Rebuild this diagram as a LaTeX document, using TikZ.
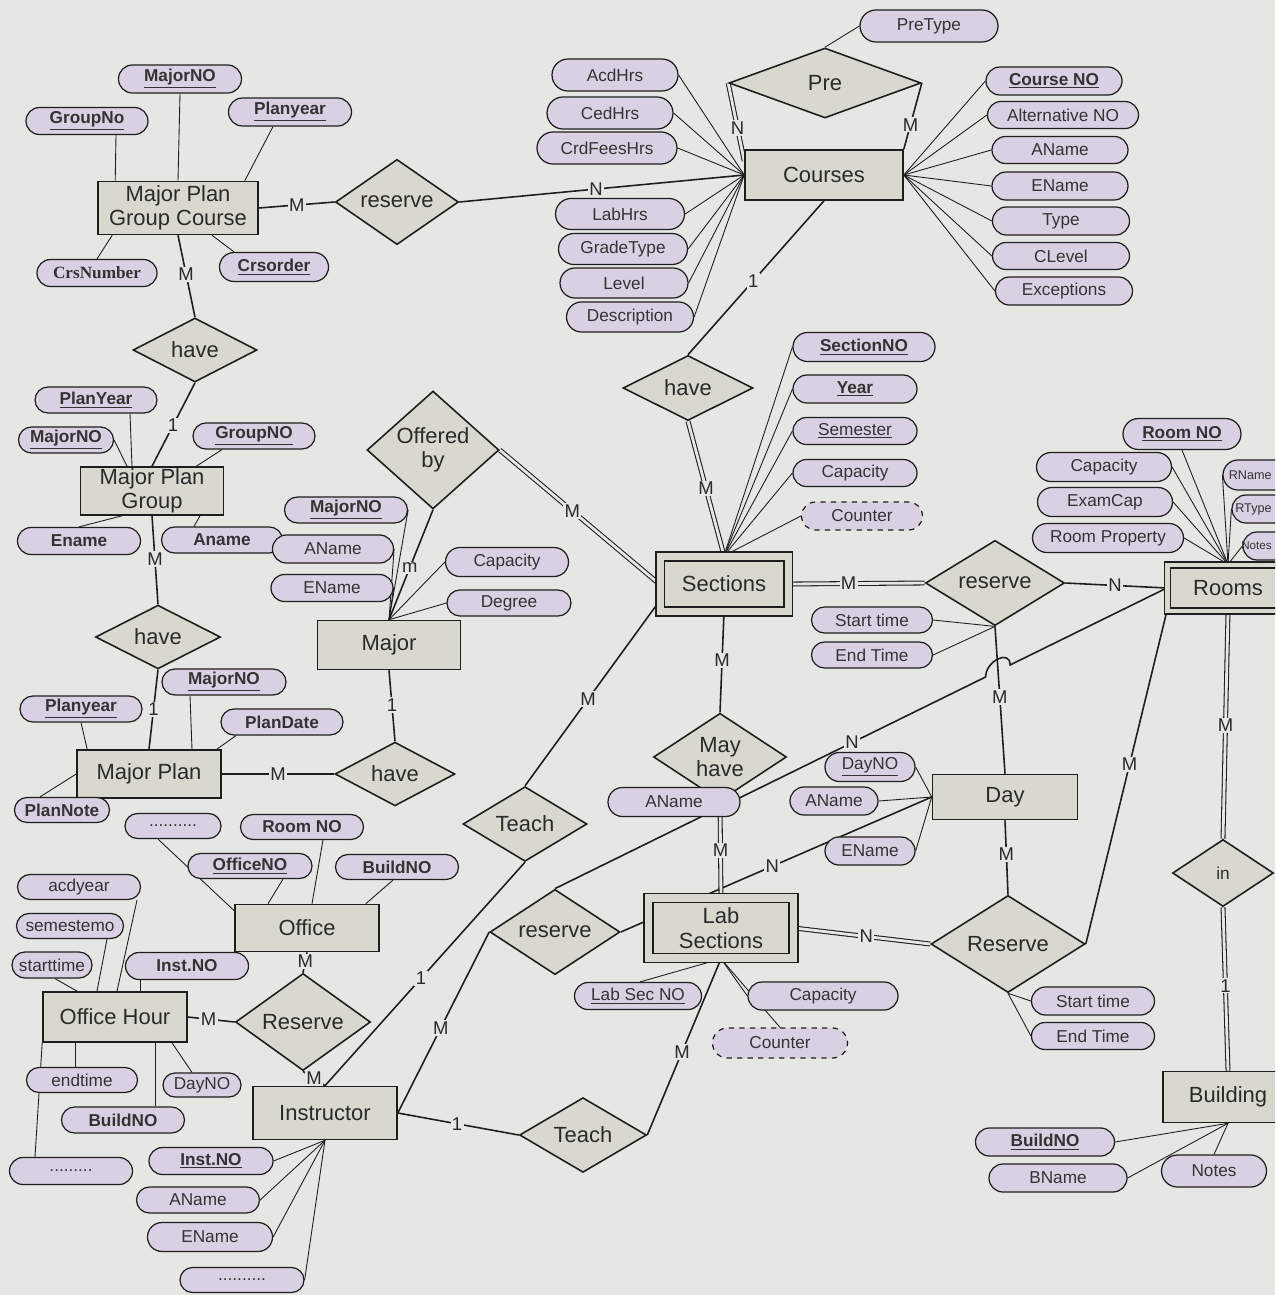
\documentclass[tikz,border=0pt]{standalone}
\usepackage{fontspec}
\setmainfont{Liberation Sans}
\newfontfamily\serifface{Liberation Serif}
\usetikzlibrary{shapes.geometric,shapes.misc,calc}
\definecolor{bgc}{HTML}{E6E6E3}
\definecolor{entfill}{HTML}{D9D8CF}
\definecolor{attrfill}{HTML}{D9D1E3}
\definecolor{lc}{HTML}{1E1E1E}
\definecolor{tc}{HTML}{2A2A2A}
\definecolor{atc}{HTML}{333333}
\pgfdeclarelayer{back}
\pgfdeclarelayer{edges}
\pgfsetlayers{back,edges,main}
\newcommand\entfont{\fontsize{12.5}{14}\selectfont}
\newcommand\attrfont{\fontsize{9.8}{11}\selectfont}
\newcommand\smallattrfont{\fontsize{7.2}{9}\selectfont}
\newcommand\tinyattrfont{\fontsize{6.6}{8}\selectfont}
\newcommand\lblfont{\fontsize{10.5}{11}\selectfont}
\newcommand\kb[1]{\textbf{\underline{#1}}}
\newcommand\ku[1]{\underline{#1}}
\tikzset{
  aw/.style={minimum width=#1*0.02cm},
  ah/.style={minimum height=#1*0.02cm},
  ent/.style={rectangle, draw=lc, fill=entfill, line width=0.9pt, inner sep=0pt, align=center, font=\entfont, text=tc},
  rel/.style={diamond, draw=lc, fill=entfill, line width=0.9pt, inner sep=0pt, align=center, font=\entfont, text=tc},
  attr/.style={rounded rectangle, draw=lc, fill=attrfill, line width=0.7pt, inner sep=0pt, minimum height=0.56cm, font=\attrfont, text=atc},
  dattr/.style={attr, dashed},
  edgetext/.style={inner sep=0pt, text=atc, anchor=east},
  rl/.style={draw=lc, line width=0.9pt},
  al/.style={draw=lc, line width=0.5pt},
  tl/.style={draw=lc, line width=0.6pt, double=bgc, double distance=1.6pt},
  lbl/.style={fill=bgc, inner sep=0.8pt, font=\lblfont, text=tc}
}
\begin{document}
\begin{tikzpicture}[x=0.02cm, y=-0.02cm]
\useasboundingbox (0,0) rectangle (1275,1295);
\begin{pgfonlayer}{back}
\fill[bgc] (0,0) rectangle (1275,1295);
\end{pgfonlayer}
\clip (0,0) rectangle (1275,1295);

% ---------- entities ----------
\node[ent,aw=160,ah=53] (MPGC) at (178,208) {Major Plan\\Group Course};
\node[ent,aw=158,ah=50] (Courses) at (824,175) {Courses};
\node[ent,aw=143,ah=48] (MPG) at (152,491) {Major Plan\\Group};
\node[ent,aw=143,ah=49] (Major) at (389,645) {Major};
\node[ent,double=entfill,double distance=0.14cm,aw=128,ah=55] (Sections) at (724,584) {Sections};
\node[ent,double=entfill,double distance=0.09cm,aw=121,ah=46] (Rooms) at (1228,588) {Rooms};
\node[ent,double=entfill,double distance=0.15cm,aw=145,ah=60] (Lab) at (721,928) {Lab\\Sections};
\node[ent,aw=144,ah=48] (MP) at (149,774) {Major Plan};
\node[ent,aw=144,ah=47] (Office) at (307,928) {Office};
\node[ent,aw=144,ah=50] (OH) at (115,1017) {Office Hour};
\node[ent,aw=144,ah=53] (Instructor) at (325,1113) {Instructor};
\node[ent,aw=145,ah=45] (Day) at (1005,797) {Day};
\node[ent,aw=130,ah=51] (Building) at (1228,1097) {Building};

% ---------- relationships ----------
\node[rel,aw=123,ah=66] (resA) at (397,202) {reserve};
\node[rel,aw=192,ah=70] (Pre) at (825,83) {Pre};
\node[rel,aw=124,ah=64] (have1) at (195,350) {have};
\node[rel,aw=125,ah=62] (have2) at (158,637) {have};
\node[rel,aw=132,ah=88] (off) at (433,450) {Offered\\by};
\node[rel,aw=130,ah=65] (haveCS) at (688,388) {have};
\node[rel,aw=120,ah=63] (have3) at (395,774) {have};
\node[rel,aw=139,ah=67] (resB) at (995,583) {reserve};
\node[rel,aw=133,ah=63] (mayhave) at (720,757) {May\\have};
\node[rel,aw=124,ah=65] (teach1) at (525,824) {Teach};
\node[rel,aw=130,ah=65] (resC) at (555,932) {reserve};
\node[rel,aw=135,ah=61] (resOH) at (303,1022) {Reserve};
\node[rel,aw=154,ah=66] (resD) at (1008,944) {Reserve};
\node[rel,aw=127,ah=68] (teach2) at (583,1135) {Teach};
\node[rel,aw=101,ah=67,font=\attrfont] (inrel) at (1223,873) {in};

% ---------- attributes ----------
% Major Plan Group Course
\node[attr,aw=123] (mpgcmaj) at (180,79) {\kb{MajorNO}};
\node[attr,aw=122,ah=27] (mpgcgrp) at (87,121) {\kb{GroupNo}};
\node[attr,aw=123] (mpgcyr) at (290,112) {\kb{Planyear}};
\node[attr,aw=120,ah=27] (mpgccrs) at (97,273) {\serifface\bfseries CrsNumber};
\node[attr,aw=109,ah=29] (mpgcord) at (274,267) {\kb{Crsorder}};
% Courses left
\node[attr,aw=126,ah=32] (cacd) at (615,75) {AcdHrs};
\node[attr,aw=126,ah=32] (cced) at (610,113) {CedHrs};
\node[attr,aw=140,ah=32] (ccrd) at (607,148) {CrdFeesHrs};
\node[attr,aw=129,ah=31] (clab) at (620,214) {LabHrs};
\node[attr,aw=129,ah=31] (cgrade) at (623,249) {GradeType};
\node[attr,aw=128,ah=30] (clevel) at (624,283) {Level};
\node[attr,aw=127,ah=30] (cdesc) at (630,317) {Description};
% Courses right
\node[attr,aw=136] (cno) at (1054,81) {\kb{Course NO}};
\node[attr,aw=151,ah=27] (calt) at (1063,115) {Alternative NO};
\node[attr,aw=136,ah=27] (caname) at (1060,150) {AName};
\node[attr,aw=136] (cename) at (1060,186) {EName};
\node[attr,aw=137] (ctype) at (1061,221) {Type};
\node[attr,aw=137,ah=27] (cclevel) at (1061,256) {CLevel};
\node[attr,aw=137] (cexc) at (1064,291) {Exceptions};
\node[attr,aw=138,ah=32] (pretype) at (929,26) {PreType};
% Major Plan Group
\node[attr,aw=122,ah=26] (mpgpy) at (96,400) {\kb{PlanYear}};
\node[attr,aw=95,ah=26] (mpgmaj) at (66,440) {\kb{MajorNO}};
\node[attr,aw=122,ah=26] (mpggrp) at (254,436) {\kb{GroupNO}};
\node[attr,aw=123,ah=27] (mpgen) at (79,541) {\textbf{Ename}};
\node[attr,aw=121,ah=26] (mpgan) at (222,540) {\textbf{Aname}};
% Major
\node[attr,aw=123,ah=26] (mjno) at (346,510) {\kb{MajorNO}};
\node[attr,aw=121] (mjan) at (333,549) {AName};
\node[attr,aw=122,ah=27] (mjen) at (332,588) {EName};
\node[attr,aw=123,ah=29] (mjcap) at (507,562) {Capacity};
\node[attr,aw=124,ah=26] (mjdeg) at (509,603) {Degree};
% Major Plan
\node[attr,aw=124,ah=26] (mpmaj) at (224,682) {\kb{MajorNO}};
\node[attr,aw=122,ah=26] (mppy) at (81,709) {\kb{Planyear}};
\node[attr,aw=122,ah=26] (mppd) at (282,722) {\textbf{PlanDate}};
\node[attr,aw=95,ah=25] (mppn) at (62,810) {\textbf{PlanNote}};
% Sections
\node[attr,aw=142,ah=29] (sno) at (864,347) {\kb{SectionNO}};
\node[attr,aw=124] (syear) at (855,389) {\kb{Year}};
\node[attr,aw=124,ah=27] (ssem) at (855,431) {\ku{Semester}};
\node[attr,aw=124,ah=27] (scap) at (855,473) {Capacity};
\node[dattr,aw=121] (scnt) at (862,516) {Counter};
\node[attr,aw=121,ah=26] (sst) at (872,620) {Start time};
\node[attr,aw=121,ah=26] (set) at (872,655) {End Time};
% Rooms
\node[attr,aw=118,ah=31] (rno) at (1182,434) {\kb{Room NO}};
\node[attr,aw=135,ah=29] (rcap) at (1104,467) {Capacity};
\node[attr,aw=135,ah=29] (rexam) at (1105,502) {ExamCap};
\node[attr,aw=151,ah=29] (rprop) at (1108,538) {Room Property};
\node[attr,aw=80,ah=30] (rname) at (1263,475) {};
\node[edgetext,font=\smallattrfont] (rnamet) at (1272,475) {RName};
\node[attr,aw=80,ah=28] (rtype) at (1272,509) {};
\node[edgetext,font=\smallattrfont] (rtypet) at (1272,509) {RType};
\node[attr,aw=80,ah=28] (rnotes) at (1283,546) {};
\node[edgetext,font=\tinyattrfont] (rnotest) at (1272,546) {Notes};
% Day
\node[attr,aw=90,ah=29] (dno) at (870,767) {\ku{DayNO}};
\node[attr,aw=88] (dan) at (834,801) {AName};
\node[attr,aw=90] (den) at (870,851) {EName};
% May have area
\node[attr,aw=132,ah=29] (mhan) at (674,802) {AName};
% Lab Sections
\node[attr,aw=127,ah=27] (labno) at (638,996) {\ku{Lab Sec NO}};
\node[attr,aw=150] (labcap) at (823,996) {Capacity};
\node[dattr,aw=135,ah=30] (labcnt) at (780,1043) {Counter};
% Reserve (Day)
\node[attr,aw=123] (dst) at (1093,1001) {Start time};
\node[attr,aw=123,ah=27] (det) at (1093,1036) {End Time};
% Building
\node[attr,aw=139] (bno) at (1045,1142) {\kb{BuildNO}};
\node[attr,aw=138] (bname) at (1058,1178) {BName};
\node[attr,aw=105,ah=32] (bnotes) at (1214,1171) {Notes};
% Office
\node[attr,aw=96,ah=25] (odots) at (173,826) {..........};
\node[attr,aw=123,ah=25] (oroom) at (302,827) {\textbf{Room NO}};
\node[attr,aw=124,ah=25] (ooff) at (250,866) {\kb{OfficeNO}};
\node[attr,aw=123,ah=25] (obuild) at (397,867) {\textbf{BuildNO}};
% Office Hour
\node[attr,aw=123,ah=25] (ohacd) at (79,887) {acdyear};
\node[attr,aw=107,ah=25] (ohsem) at (70,926) {semestemo};
\node[attr,aw=80,ah=26] (ohst) at (52,965) {starttime};
\node[attr,aw=123,ah=27] (ohinst) at (187,966) {\textbf{Inst.NO}};
\node[attr,aw=111,ah=25] (ohend) at (82,1080) {endtime};
\node[attr,aw=78,ah=24] (ohday) at (202,1085) {DayNO};
\node[attr,aw=123,ah=26] (ohbuild) at (123,1120) {\textbf{BuildNO}};
\node[attr,aw=123,ah=27] (ohdots) at (71,1171) {.........};
% Instructor
\node[attr,aw=124,ah=27] (ino) at (211,1161) {\kb{Inst.NO}};
\node[attr,aw=123,ah=26] (ian) at (198,1200) {AName};
\node[attr,aw=125,ah=29] (ien) at (210,1237) {EName};
\node[attr,aw=124,ah=25] (idots) at (242,1280) {..........};

% ---------- connectors ----------
\begin{pgfonlayer}{edges}
% Major Plan Group Course
\draw[al] (mpgcmaj.south) -- (MPGC.north);
\draw[al] ($(mpgcgrp.south)+(29,0)$) -- ($(MPGC.north west)+(18,0)$);
\draw[al] ($(mpgcyr.south)+(-17,0)$) -- ($(MPGC.north east)+(-14,0)$);
\draw[al] (mpgccrs.north) -- ($(MPGC.south west)+(15,0)$);
\draw[al] ($(mpgcord.north)+(-40,0)$) -- ($(MPGC.south)+(34,0)$);
\draw[rl] (MPGC.east) -- node[lbl,pos=0.5]{M} (resA.west);
\draw[rl] (resA.east) -- node[lbl,pos=0.48]{N} (Courses.west);
\draw[rl] (MPGC.south) -- node[lbl,pos=0.48]{M} (have1.north);
% Courses
\foreach \q in {cacd,cced,ccrd,clab,cgrade,clevel,cdesc} \draw[al] (\q.east) -- (Courses.west);
\foreach \q in {cno,calt,caname,cename,ctype,cclevel,cexc} \draw[al] (\q.west) -- (Courses.east);
\draw[tl] (Pre.west) -- node[lbl,pos=0.58]{N} (Courses.170);
\draw[rl] (Pre.east) -- node[lbl,pos=0.63]{M} (Courses.north east);
\draw[al] (Pre.north) -- (pretype.west);
\draw[rl] (Courses.south) -- node[lbl,pos=0.52]{1} (haveCS.north);
% Major Plan Group
\draw[rl] (MPG.north) -- node[lbl,pos=0.49]{1} (have1.south);
\draw[rl] (MPG.south) -- node[lbl,pos=0.49]{M} (have2.north);
\draw[al] ($(mpgpy.south)+(34,0)$) -- ($(MPG.north)+(-20,0)$);
\draw[al] (mpgmaj.east) -- ($(MPG.north)+(-25,0)$);
\draw[al] ($(mpggrp.south)+(-32,0)$) -- ($(MPG.north east)+(-28,0)$);
\draw[al] (mpgen.north) -- ($(MPG.south)+(-30,0)$);
\draw[al] ($(mpgan.north)+(-28,0)$) -- ($(MPG.south)+(48,0)$);
% Major Plan
\draw[rl] (MP.north) -- node[lbl,pos=0.5]{1} (have2.south);
\draw[rl] (have3.west) -- node[lbl,pos=0.5]{M} (MP.east);
\draw[al] ($(mpmaj.south)+(-34,0)$) -- ($(MP.north)+(43,0)$);
\draw[al] (mppy.south) -- ($(MP.north west)+(11,0)$);
\draw[al] ($(mppd.south)+(-46,0)$) -- ($(MP.north east)+(-5,0)$);
\draw[al] ($(mppn.north)+(-22,0)$) -- (MP.west);
% Major
\draw[rl] (Major.north) -- node[lbl,pos=0.47]{m} (off.south);
\draw[rl] (Major.south) -- node[lbl,pos=0.49]{1} (have3.north);
\foreach \q in {mjno,mjan,mjen} \draw[al] (\q.east) -- (Major.north);
\foreach \q in {mjcap,mjdeg} \draw[al] (\q.west) -- (Major.north);
% Sections
\draw[tl] (off.east) -- node[lbl,pos=0.455]{M} (Sections.west);
\draw[rl] (Sections.195) -- node[lbl,pos=0.53]{M} (teach1.north);
\draw[tl] (haveCS.south) -- node[lbl,pos=0.5]{M} (Sections.north);
\foreach \q in {sno,syear,ssem,scap,scnt} \draw[al] (\q.west) -- (Sections.north);
\draw[tl] (Sections.east) -- node[lbl,pos=0.44]{M} (resB.west);
\draw[rl] (Sections.south) -- node[lbl,pos=0.48]{M} (mayhave.north);
\draw[rl] (resB.east) -- node[lbl,pos=0.49]{N} (Rooms.west);
\draw[al] (sst.east) -- (resB.south);
\draw[al] (set.east) -- (resB.south);
\draw[rl] (resB.south) -- node[lbl,pos=0.48]{M} (Day.north);
% Rooms
\foreach \q in {rcap,rexam,rprop} \draw[al] (\q.east) -- (Rooms.north);
\draw[al] (rno.south) -- (Rooms.north);
\foreach \q in {rname,rtype,rnotes} \draw[al] (\q.west) -- (Rooms.north);
\draw[tl] (Rooms.south) -- node[lbl,pos=0.5]{M} (inrel.north);
\draw[tl] (inrel.south) -- node[lbl,pos=0.48]{1} (Building.north);
\coordinate (hopA) at ($(Rooms.west)!0.256!(resC.north)$);
\coordinate (hopB) at ($(Rooms.west)!0.296!(resC.north)$);
\draw[rl] (Rooms.west) -- (hopA) .. controls ($(hopA)+(0,-16)$) and ($(hopB)+(0,-16)$) .. (hopB) -- node[lbl,pos=0.31]{N} (resC.north);
\draw[rl] (Day.west) -- node[lbl,pos=0.513]{N} (resC.east);
\draw[rl] (resC.west) -- node[lbl,pos=0.53]{M} (Instructor.east);
\draw[rl] (teach1.south) -- node[lbl,pos=0.52]{1} (Instructor.north);
\draw[rl] (Instructor.east) -- node[lbl,pos=0.49]{1} (teach2.west);
\draw[rl] (teach2.east) -- node[lbl,pos=0.47]{M} (Lab.south);
\draw[tl] (mayhave.south) -- node[lbl,pos=0.51]{M} (Lab.north);
\draw[tl] (Lab.east) -- node[lbl,pos=0.53]{N} (resD.west);
\draw[rl] (resD.north) -- node[lbl,pos=0.54]{M} (Day.south);
\draw[rl] (resD.east) -- node[lbl,pos=0.54]{M} (Rooms.south west);
% Day
\foreach \q in {dno,dan,den} \draw[al] (\q.east) -- (Day.west);
% Lab Sections
\draw[al] ($(labno.north)+(2,0)$) -- (Lab.south);
\draw[al] (labcap.west) -- (Lab.south);
\draw[al] (labcnt.north) -- (Lab.south);
\draw[al] (dst.west) -- (resD.south);
\draw[al] (det.west) -- (resD.south);
% Building
\draw[al] (bno.east) -- (Building.south);
\draw[al] (bname.east) -- (Building.south);
\draw[al] (bnotes.north) -- (Building.south);
% Office
\draw[rl] (Office.south) -- node[lbl,pos=0.45]{M} (resOH.north);
\draw[rl] (OH.east) -- node[lbl,pos=0.44]{M} (resOH.west);
\draw[rl] (resOH.south) -- node[lbl,pos=0.5]{M} (Instructor.north);
\draw[al] ($(odots.south)+(-15,0)$) -- ($(Office.north west)+(0,7)$);
\draw[al] ($(oroom.south)+(21,0)$) -- ($(Office.north)+(5,0)$);
\draw[al] ($(ooff.south)+(33,0)$) -- ($(Office.north)+(-39,0)$);
\draw[al] ($(obuild.south)+(-4,0)$) -- ($(Office.north east)+(-14,0)$);
% Office Hour
\draw[al] ($(ohacd.south)+(58,0)$) -- ($(OH.north)+(2,0)$);
\draw[al] ($(ohsem.south)+(37,0)$) -- ($(OH.north)+(-18,0)$);
\draw[al] ($(ohst.south)+(3,0)$) -- ($(OH.north west)+(35,0)$);
\draw[al] ($(ohinst.south)+(-47,0)$) -- ($(OH.north)+(25,0)$);
\draw[al] ($(OH.south)+(-40,0)$) -- ($(ohend.north)+(-7,0)$);
\draw[al] ($(OH.south)+(57,0)$) -- ($(ohday.north)+(-10,0)$);
\draw[al] ($(OH.south)+(40,0)$) -- ($(ohbuild.north)+(32,0)$);
\draw[al] (OH.south west) -- ($(ohdots.north)+(-36,0)$);
% Instructor
\foreach \q in {ino,ian,ien,idots} \draw[al] (\q.east) -- (Instructor.south);
\end{pgfonlayer}
\end{tikzpicture}
\end{document}
